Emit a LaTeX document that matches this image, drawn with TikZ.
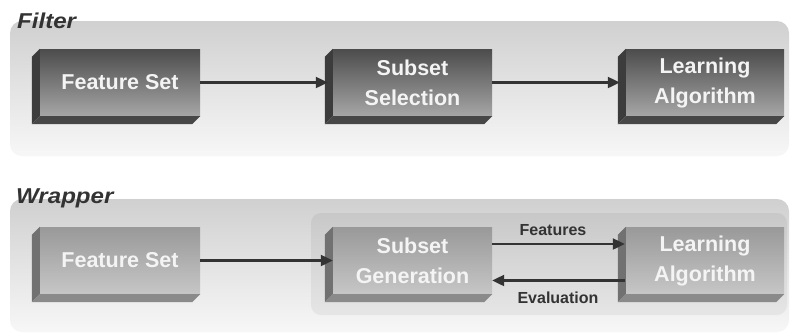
\documentclass[tikz,border=0pt]{standalone}
\usepackage{fontspec}
\setmainfont{Liberation Sans}
\usetikzlibrary{arrows.meta}

\definecolor{inkdark}{HTML}{333333}
\definecolor{panelTop}{HTML}{D0D0D0}
\definecolor{panelBot}{HTML}{F7F7F7}
\definecolor{innerTop}{HTML}{C8C8C8}
\definecolor{innerBot}{HTML}{E6E6E6}
\definecolor{darkTop}{HTML}{4C4C4C}
\definecolor{darkBot}{HTML}{A6A6A6}
\definecolor{darkSide}{HTML}{3C3C3C}
\definecolor{darkBase}{HTML}{474747}
\definecolor{lightTop}{HTML}{999999}
\definecolor{lightBot}{HTML}{C6C6C6}
\definecolor{lightSide}{HTML}{717171}
\definecolor{lightBase}{HTML}{8A8A8A}
\definecolor{boxtext}{HTML}{F4F4F4}

\newcommand\boxfont{\fontsize{21.5}{30}\selectfont\bfseries}
\newcommand\titlefont{\fontsize{21.5}{21.5}\selectfont\bfseries\itshape}
\newcommand\labelfont{\fontsize{16}{16}\selectfont\bfseries}

% side and bottom faces of a bevelled block, hung off the front face node
% (picture units: x to the right, y downwards)
\newcommand\bevelfaces[3]{%
  \fill[#2] (#1.north west) -- ++(-8,8) -- ([shift={(-8,8)}]#1.south west)
            -- (#1.south west) -- cycle;
  \fill[#3] (#1.south west) -- ([shift={(-8,8)}]#1.south west)
            -- ([shift={(-8,8)}]#1.south east) -- (#1.south east) -- cycle;
}

\tikzset{
  panel/.style={rounded corners=12pt, top color=panelTop, bottom color=panelBot},
  innerpanel/.style={rounded corners=10pt, top color=innerTop, bottom color=innerBot},
  block/.style={rectangle, minimum height=67pt, inner sep=0pt, align=center,
    text=boxtext, font=\boxfont},
  darkblock/.style={block, top color=darkTop, bottom color=darkBot},
  lightblock/.style={block, top color=lightTop, bottom color=lightBot},
  arr/.style={draw=inkdark, line width=2.2pt,
    -{Triangle[length=12pt,width=11pt]}},
  title/.style={anchor=base west, inner sep=0pt, text=inkdark, font=\titlefont},
  edgelabel/.style={inner sep=0pt, text=inkdark, font=\labelfont},
}

\begin{document}
\begin{tikzpicture}[x=1pt,y=-1pt]
  \fill[white] (0,0) rectangle (790,333);
  \useasboundingbox (0,0) rectangle (790,333);

  % background panels
  \shade[panel] (10,21) rectangle (789,156);
  \shade[panel] (10,199) rectangle (789,332);
  \shade[innerpanel] (311,213) rectangle (787,315);

  % titles
  \node[title] (filtertitle) at (17,28) {\scalebox{1.12}[1]{Filter}};
  \node[title] (wrappertitle) at (16,203) {\scalebox{1.12}[1]{Wrapper}};

  % filter approach
  \node[darkblock, minimum width=160pt] (fset1) at (120,82.5) {Feature Set};
  \node[darkblock, minimum width=159pt] (subsel) at (412.5,82.5) {Subset\\Selection};
  \node[darkblock, minimum width=158pt] (learn1) at (705,82.5) {Learning\\Algorithm};
  \bevelfaces{fset1}{darkSide}{darkBase}
  \bevelfaces{subsel}{darkSide}{darkBase}
  \bevelfaces{learn1}{darkSide}{darkBase}

  \draw[arr] (fset1.east) -- ([xshift=-5pt]subsel.west);
  \draw[arr] (subsel.east) -- ([xshift=-6pt]learn1.west);

  % wrapper approach
  \node[lightblock, minimum width=160pt] (fset2) at (120,260.5) {Feature Set};
  \node[lightblock, minimum width=159pt] (subgen) at (412.5,260.5) {Subset\\Generation};
  \node[lightblock, minimum width=158pt] (learn2) at (705,260.5) {Learning\\Algorithm};
  \bevelfaces{fset2}{lightSide}{lightBase}
  \bevelfaces{subgen}{lightSide}{lightBase}
  \bevelfaces{learn2}{lightSide}{lightBase}

  \draw[arr] (fset2.east) -- (subgen.west);
  \draw[arr] ([yshift=16.5pt]subgen.east) -- ([xshift=-1pt,yshift=16.5pt]learn2.west);
  \draw[arr] ([xshift=-1pt,yshift=-20pt]learn2.west) -- ([yshift=-20pt]subgen.east);

  \node[edgelabel] (featlbl) at (553,230) {Features};
  \node[edgelabel] (evallbl) at (558,298) {Evaluation};
\end{tikzpicture}
\end{document}
